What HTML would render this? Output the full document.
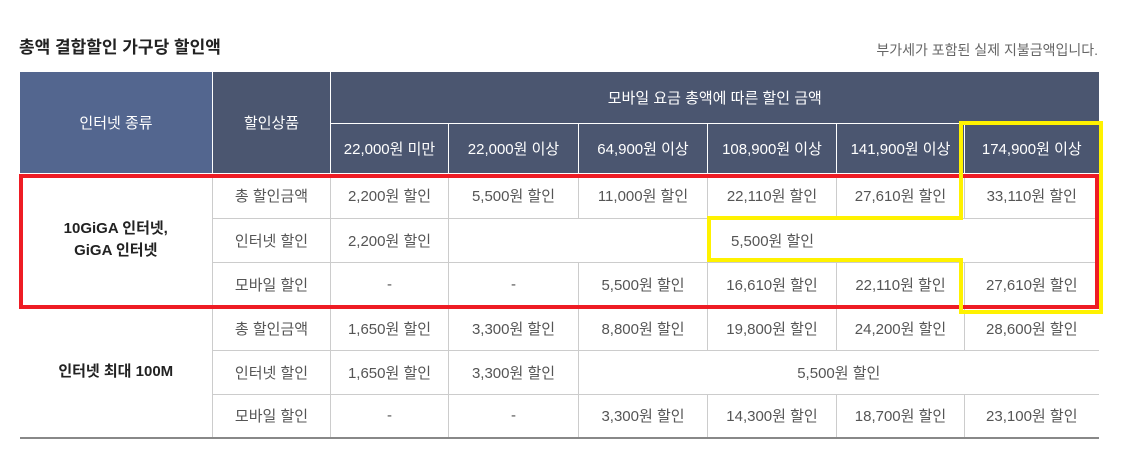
<!DOCTYPE html>
<html><head><meta charset="utf-8"><style>
body{margin:0;width:1139px;height:468px;background:#fff;position:relative;overflow:hidden;font-family:"Liberation Sans","Noto Sans CJK KR",sans-serif}
.t{position:absolute;left:19px;top:33px;font-size:17px;font-weight:bold;color:#222}
.n{position:absolute;right:41px;top:40px;font-size:14px;color:#666}
table{position:absolute;left:19px;top:72px;border-collapse:collapse;table-layout:fixed;width:1079px}
td,th{text-align:center;padding:0;font-size:15px;color:#555;font-weight:normal;border:1px solid #ccc;white-space:nowrap}
th{background:#4b5670;color:#fff;border:1px solid #fff;font-size:15px}
th.a{background:#53668f}
tr.h1{height:51px}tr.h2{height:50px}tr.b1{height:45px}tr.b{height:44px}
td.g{font-weight:bold;color:#222;line-height:22px;border-left:none}
tr:last-child td, td.last{border-bottom:2px solid #888}
td:last-child,th:last-child{border-right:none}
th{border-top:none}
svg{position:absolute;left:0;top:0}
</style></head><body>
<div class="t">총액 결합할인 가구당 할인액</div>
<div class="n">부가세가 포함된 실제 지불금액입니다.</div>
<table>
<colgroup><col style="width:193px"><col style="width:118px"><col style="width:118px"><col style="width:130px"><col style="width:129px"><col style="width:129px"><col style="width:128px"><col style="width:134px"></colgroup>
<tr class="h1"><th class="a" rowspan="2">인터넷 종류</th><th rowspan="2">할인상품</th><th colspan="6">모바일 요금 총액에 따른 할인 금액</th></tr>
<tr class="h2"><th>22,000원 미만</th><th>22,000원 이상</th><th>64,900원 이상</th><th>108,900원 이상</th><th>141,900원 이상</th><th>174,900원 이상</th></tr>
<tr class="b1"><td class="g" rowspan="3">10GiGA 인터넷,<br>GiGA 인터넷</td><td>총 할인금액</td><td>2,200원 할인</td><td>5,500원 할인</td><td>11,000원 할인</td><td>22,110원 할인</td><td>27,610원 할인</td><td>33,110원 할인</td></tr>
<tr class="b"><td>인터넷 할인</td><td>2,200원 할인</td><td colspan="6" style="text-align:left;padding-left:282px">5,500원 할인</td></tr>
<tr class="b"><td>모바일 할인</td><td>-</td><td>-</td><td>5,500원 할인</td><td>16,610원 할인</td><td>22,110원 할인</td><td>27,610원 할인</td></tr>
<tr class="b"><td class="g last" rowspan="3">인터넷 최대 100M</td><td>총 할인금액</td><td>1,650원 할인</td><td>3,300원 할인</td><td>8,800원 할인</td><td>19,800원 할인</td><td>24,200원 할인</td><td>28,600원 할인</td></tr>
<tr class="b"><td>인터넷 할인</td><td>1,650원 할인</td><td>3,300원 할인</td><td colspan="4">5,500원 할인</td></tr>
<tr class="b"><td>모바일 할인</td><td>-</td><td>-</td><td>3,300원 할인</td><td>14,300원 할인</td><td>18,700원 할인</td><td>23,100원 할인</td></tr>
</table>
<svg width="1139" height="468">
<rect x="21" y="176" width="1076" height="131" fill="none" stroke="#ee1c24" stroke-width="4"/>
<polygon points="961,123 1101,123 1101,312 961,312 961,260 709,260 709,218 961,218" fill="none" stroke="#fff200" stroke-width="4"/>
</svg>
</body></html>
